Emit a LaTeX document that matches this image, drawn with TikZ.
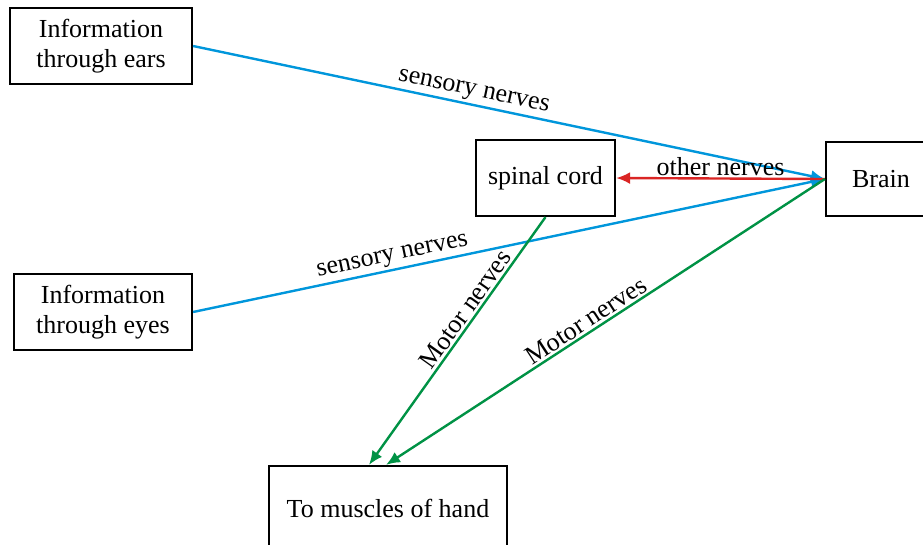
\documentclass[tikz,border=0pt]{standalone}
\usepackage{fontspec}
\setmainfont{Liberation Serif}
\usetikzlibrary{arrows.meta,calc}
\definecolor{nerveblue}{RGB}{0,150,219}
\definecolor{nervered}{RGB}{218,37,36}
\definecolor{nervegreen}{RGB}{0,146,69}
\begin{document}
\begin{tikzpicture}[x=1pt,y=-1pt,font=\fontsize{26}{30}\selectfont,
  box/.style={draw,line width=2.2pt,rectangle,align=center,minimum height=76pt},
  nerve/.style={line width=2.4pt,-{Latex[length=14pt,width=12pt]}},
  lbl/.style={sloped,above,inner sep=2pt,text=black}]
  \useasboundingbox (0,0) rectangle (923,544);
  \node[box,minimum width=182pt] (ears) at (101,46) {Information\\through ears};
  \node[box,minimum width=178pt] (eyes) at (103,312) {Information\\through eyes};
  \node[box,minimum width=139pt] (cord) at (545.5,178) {spinal cord};
  \node[box,minimum width=110pt,minimum height=74pt] (brain) at (881,179) {Brain};
  \node[box,minimum width=238pt,minimum height=84pt] (hand) at (388,508) {To muscles of hand};
  \coordinate (handL) at ($(hand.north)+(-19,0)$);
  \coordinate (handR) at ($(hand.north)+(-2,0)$);
  % sensory input
  \draw[nerve,nerveblue] (ears.east) -- node[lbl,pos=0.44] {sensory nerves} (brain.west);
  \draw[nerve,nerveblue] (eyes.east) -- node[lbl,pos=0.32] {sensory nerves} (brain.west);
  \draw[nerve,nervered] (brain.west) -- node[above,inner sep=2pt,text=black] {other nerves} (cord.east);
  % motor output
  \draw[nerve,nervegreen] (cord.south) -- node[lbl,pos=0.4] {Motor nerves} (handL);
  \draw[nerve,nervegreen] (brain.west) -- node[lbl,pos=0.53] {Motor nerves} (handR);
\end{tikzpicture}
\end{document}
